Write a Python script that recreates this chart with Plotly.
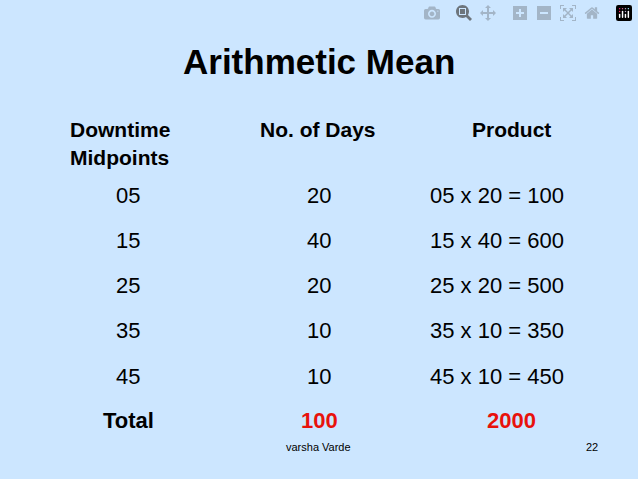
import plotly.graph_objects as go

W, H = 638, 479
midpoints = ["05", "15", "25", "35", "45"]
days = [20, 40, 20, 10, 10]
products = [100, 600, 500, 350, 450]
total_days = 100
total_product = 2000

F = "Liberation Sans, Arial, sans-serif"
anns = []
def t(x, y, s, size=22, bold=False, color="black", xa="center"):
    anns.append(dict(x=x / W, y=1 - y / H, xref="paper", yref="paper", text=f"<b>{s}</b>" if bold else s,
                     showarrow=False, xanchor=xa, yanchor="middle",
                     font=dict(family=F, size=size, color=color)))

t(319, 62, "Arithmetic Mean", 35, True)
t(68, 129, "Downtime", 21, True, xa="left")
t(68, 157, "Midpoints", 21, True, xa="left")
t(318, 129, "No. of Days", 21, True)
t(511, 129, "Product", 21, True)
ys = [195, 240, 285, 330, 376]
for m, d, p, y in zip(midpoints, days, products, ys):
    t(128, y, m)
    t(319, y, str(d))
    t(497, y, f"{m} x {d} = {p}")
t(128, 420, "Total", 22, True)
t(319, 420, str(total_days), 22, True, "#e8120c")
t(511, 420, str(total_product), 22, True, "#e8120c")
t(318, 447, "varsha Varde", 11)
t(592, 447, "22", 11)

fig = go.Figure()
fig.update_layout(width=W, height=H, margin=dict(l=0, r=0, t=0, b=0),
                  paper_bgcolor="#cce6ff", plot_bgcolor="#cce6ff",
                  xaxis=dict(visible=False), yaxis=dict(visible=False),
                  annotations=anns)
fig.write_html("out.html")
with open("out.html", encoding="utf-8") as f:
    html = f.read()
html = html.replace("<head>", "<head><style>html,body{margin:0;padding:0;background:#cce6ff;overflow:hidden}</style>", 1)
with open("out.html", "w", encoding="utf-8") as f:
    f.write(html)
